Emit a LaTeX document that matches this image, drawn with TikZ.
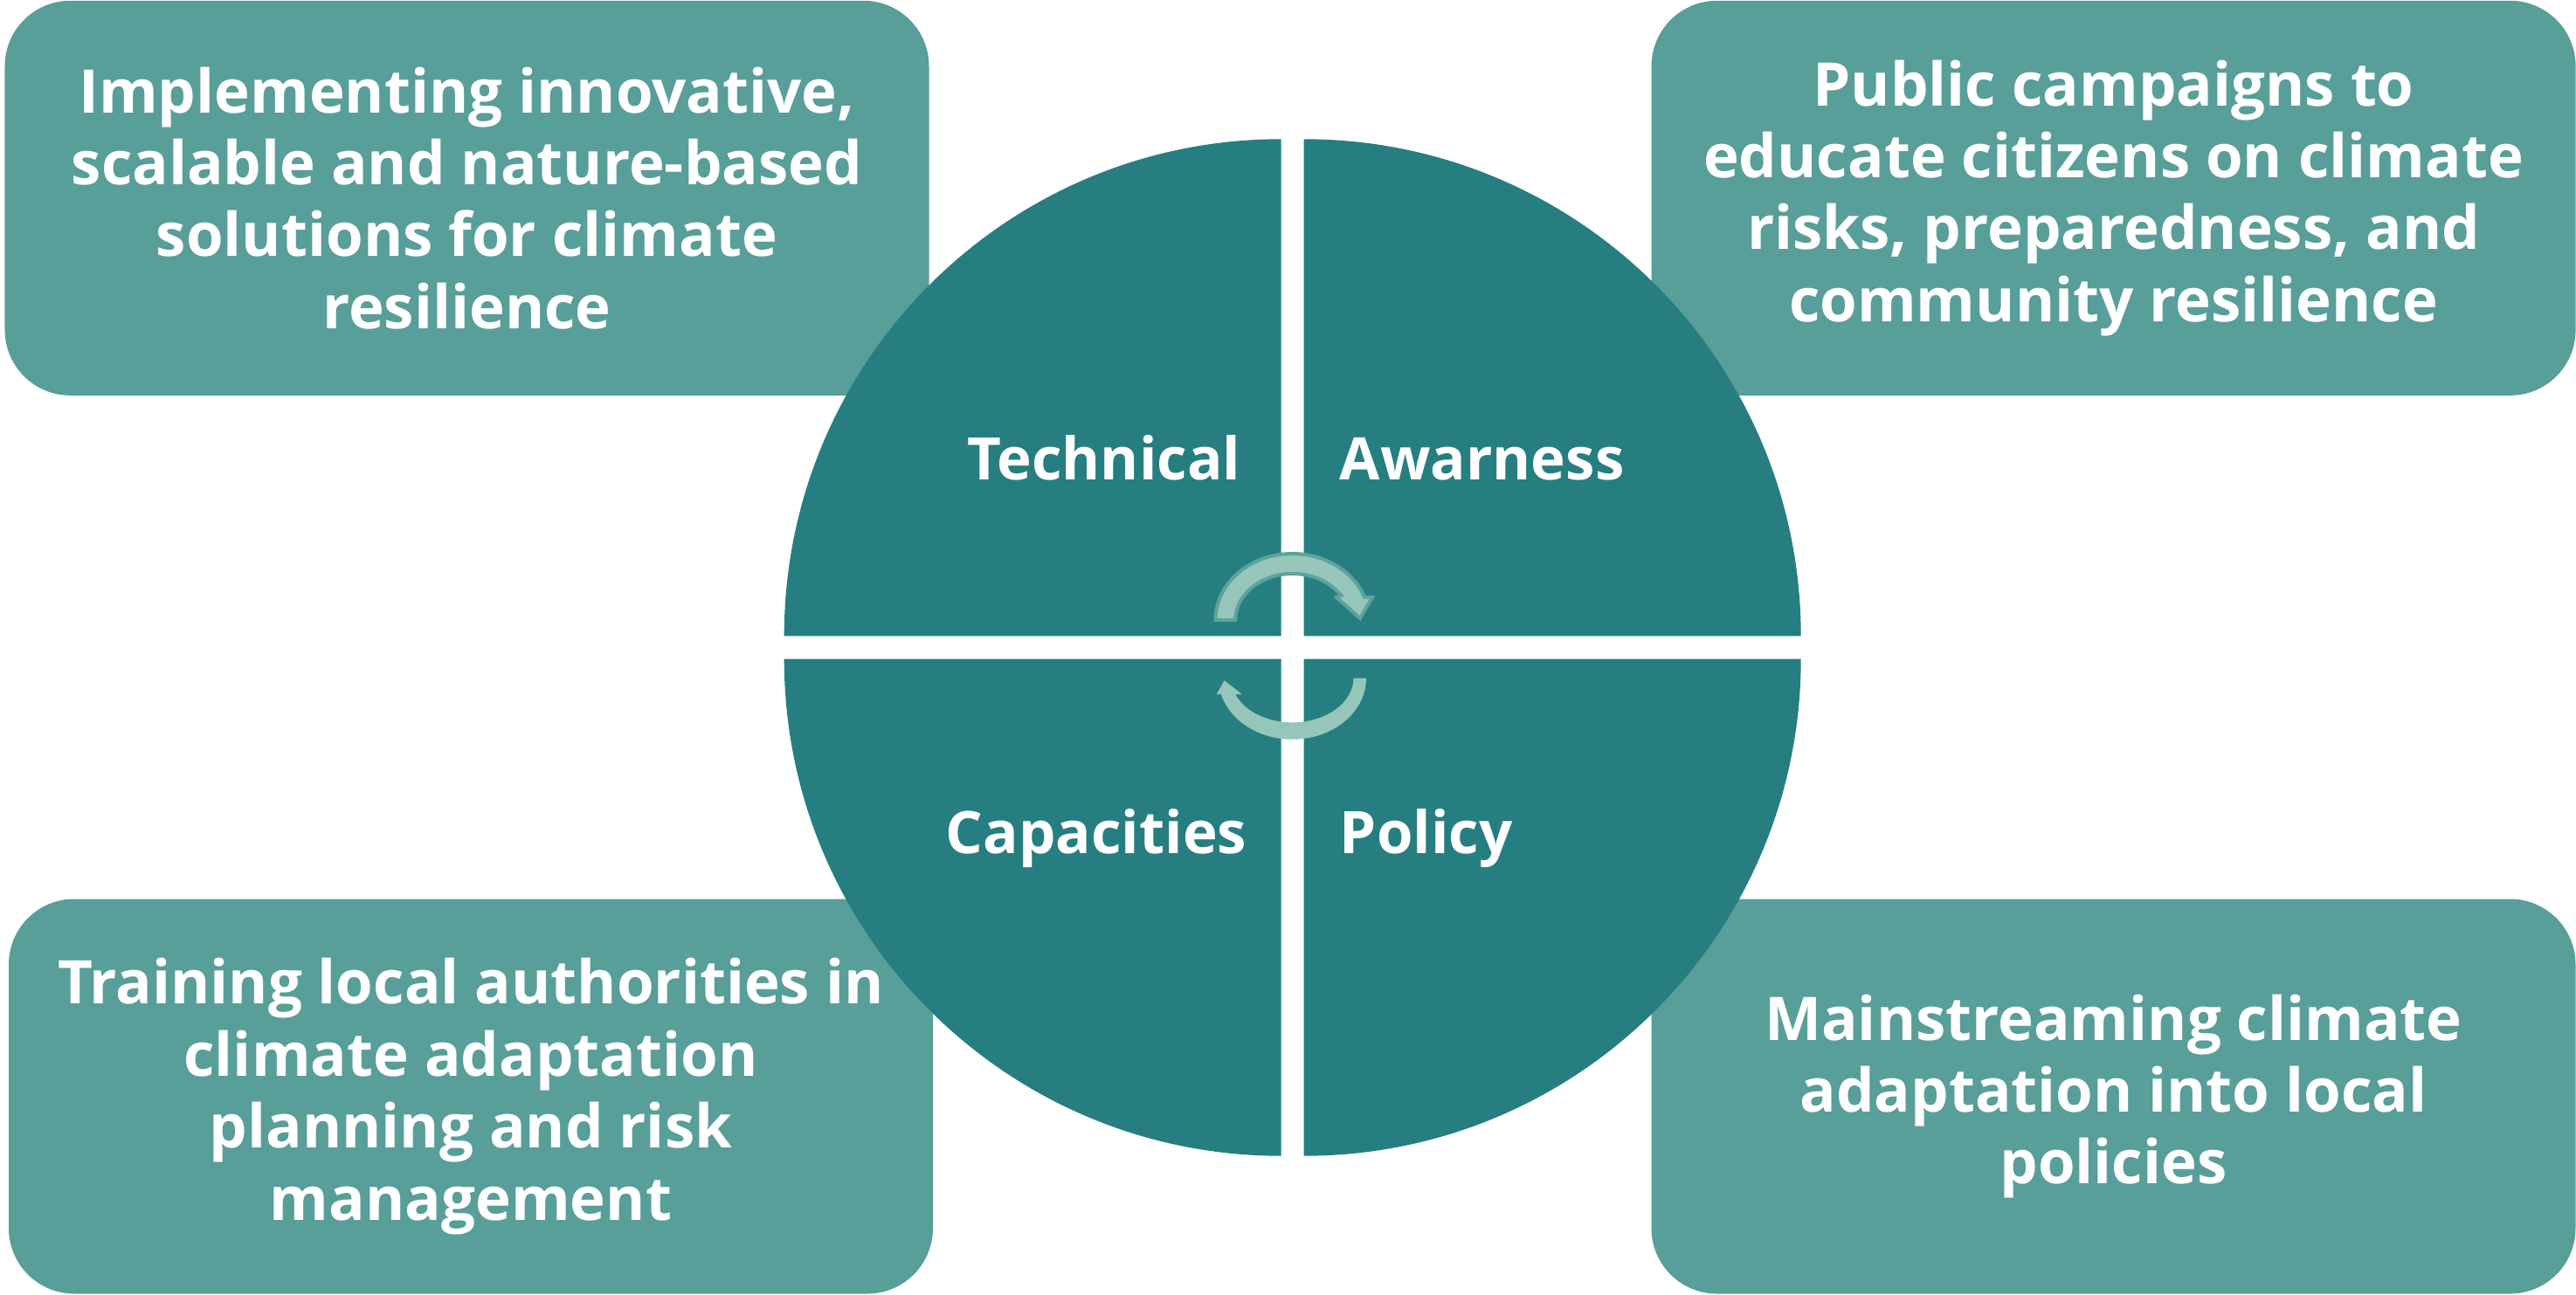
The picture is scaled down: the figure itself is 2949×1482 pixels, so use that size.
\documentclass[tikz,border=0pt]{standalone}
\usepackage{fontspec}
\setmainfont{Open Sans}
\definecolor{boxcol}{HTML}{589E99}
\definecolor{circcol}{HTML}{267E80}
\definecolor{arrowfill}{HTML}{96C6BA}
\definecolor{arrowline}{HTML}{5DA39C}
\tikzset{
  infobox/.style={fill=boxcol, rounded corners=18.75pt, minimum width=264.5pt, minimum height=113pt,
    inner sep=0pt, align=center, text=white, font=\fontsize{17.25pt}{20.6pt}\selectfont\bfseries},
  quadlabel/.style={inner sep=0pt, text=white, font=\fontsize{16.8pt}{20.6pt}\selectfont\bfseries},
  quad/.style={fill=circcol},
  cyclearrow/.style={fill=arrowfill}
}
\begin{document}
\begin{tikzpicture}[x=0.25pt,y=0.25pt,yscale=-1]
\useasboundingbox (0,0) rectangle (2949,1482);
% outer boxes
\node[infobox] (tl) at (534.5,226.8) {Implementing innovative,\\scalable and nature-based\\solutions for climate\\resilience};
\node[infobox] (tr) at (2419.6,226.8) {Public campaigns to\\educate citizens on climate\\risks, preparedness, and\\community resilience};
\node[infobox] (bl) at (539,1255.5) {Training local authorities in\\climate adaptation\\planning and risk\\management};
\node[infobox] (br) at (2419.5,1255.5) {Mainstreaming climate\\adaptation into local\\policies};
% circle quadrants
\fill[quad] (1466.7,728.3) -- ++(-569,0) arc[start angle=180,end angle=270,radius=569] -- cycle;
\fill[quad] (1492.7,728.3) -- ++(0,-569) arc[start angle=270,end angle=360,radius=569] -- cycle;
\fill[quad] (1492.7,754.7) -- ++(569,0) arc[start angle=0,end angle=90,radius=569] -- cycle;
\fill[quad] (1466.7,754.7) -- ++(0,569) arc[start angle=90,end angle=180,radius=569] -- cycle;
% labels
\node[quadlabel, anchor=base east] (technical) at (1421,549) {Technical};
\node[quadlabel, anchor=base west] (awareness) at (1533,549) {Awarness};
\node[quadlabel, anchor=base east] (capacities) at (1428,977) {Capacities};
\node[quadlabel, anchor=base west] (policy) at (1533,977) {Policy};
% cycle arrows
\filldraw[cyclearrow, draw=arrowline, line width=1pt, line join=miter]
  (1391.5,710) arc[start angle=180,end angle=339.7,x radius=88,y radius=76]
  -- (1571,684) -- (1557,708) -- (1530,684) -- (1535.3,681.9)
  arc[start angle=328,end angle=180,x radius=65.5,y radius=53] -- cycle;
\fill[cyclearrow]
  (1564,776.7) arc[start angle=0,end angle=164.9,x radius=84.5,y radius=70]
  -- (1392.7,795) -- (1401.7,779.3) -- (1421.7,795) -- (1414.2,795)
  arc[start angle=158.8,end angle=0,x radius=70,y radius=50.6] -- cycle;
\end{tikzpicture}
\end{document}
